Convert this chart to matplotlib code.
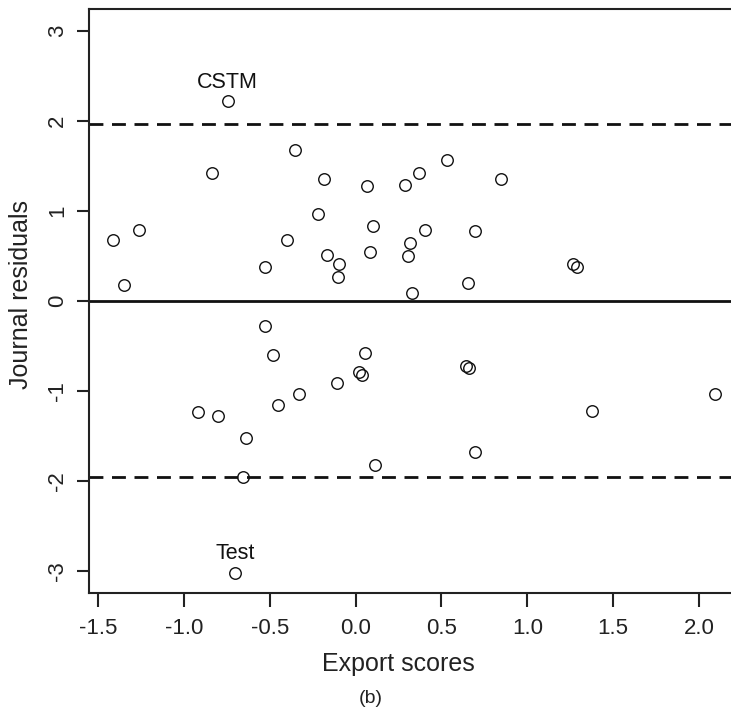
import numpy as np
import matplotlib
matplotlib.use("Agg")
import matplotlib.pyplot as plt

plt.rcParams['font.family'] = ['Liberation Sans', 'DejaVu Sans']

# Export scores (x) and journal residuals (y)
export_scores = [
    -0.745, -0.836, -0.351, -1.414, -1.263, -1.347, -0.526, -0.401,
    -0.184, -0.219, 0.065, 0.288, 0.371, 0.533, 0.847, 0.100,
    0.402, 0.694, -0.164, -0.095, -0.104, 0.086, 0.317, 0.304,
    0.329, 0.657, 1.265, 1.290,
    -0.526, -0.479, -0.331, -0.452, -0.916, -0.803, -0.638, -0.656,
    -0.700, -0.110, 0.055, 0.022, 0.036, 0.643, 0.661, 0.696,
    0.111, 1.377, 2.092,
]
journal_residuals = [
    2.22, 1.42, 1.67, 0.68, 0.79, 0.18, 0.38, 0.67,
    1.35, 0.96, 1.27, 1.29, 1.42, 1.56, 1.35, 0.83,
    0.79, 0.78, 0.51, 0.41, 0.26, 0.54, 0.64, 0.50,
    0.09, 0.20, 0.41, 0.38,
    -0.28, -0.60, -1.04, -1.16, -1.24, -1.28, -1.53, -1.96,
    -3.02, -0.91, -0.585, -0.79, -0.82, -0.73, -0.75, -1.68,
    -1.82, -1.225, -1.04,
]

# labelled outliers
labels = ["CSTM", "Test"]
label_x = [-0.745, -0.700]
label_y = [2.22, -3.02]

x_ticks = [-1.5, -1.0, -0.5, 0.0, 0.5, 1.0, 1.5, 2.0]
y_ticks = [-3, -2, -1, 0, 1, 2, 3]
limit = 1.96

W, H = 731, 712
fig = plt.figure(figsize=(W / 100, H / 100), dpi=100)
ax = fig.add_axes([88.8 / W, (H - 592.5) / H, 650 / W, 583.5 / H])

ax.axhline(0, color='#111111', lw=2.0, zorder=1)
for v in (limit, -limit):
    ax.axhline(v, color='#111111', lw=2.0, linestyle=(0, (5, 3.1)), zorder=1)

ax.plot(export_scores, journal_residuals, 'o', ms=8.3, mfc='none',
        mec='#111111', mew=1.0, zorder=3)

for lab, lx, ly in zip(labels, label_x, label_y):
    ax.annotate(lab, (lx, ly), xytext=(0, 9.5), textcoords='offset points',
                ha='center', va='baseline', fontsize=15.5, color='#111111')

ax.set_xlim(-1.554, 2.232)
ax.set_ylim(-3.242, 3.241)
ax.set_xticks(x_ticks)
ax.set_xticklabels([f"{t:.1f}" for t in x_ticks])
ax.set_yticks(y_ticks)
ax.set_yticklabels([str(t) for t in y_ticks])

for s in ax.spines.values():
    s.set_linewidth(1.5)
    s.set_color('#222222')

ax.tick_params(axis='x', length=10, width=1.5, pad=8, labelsize=16,
               colors='#222222')
ax.tick_params(axis='y', length=9, width=1.5, pad=6, labelsize=16,
               colors='#222222')
for lbl in ax.get_yticklabels():
    lbl.set_rotation(90)
    lbl.set_va('center')

ax.set_xlabel('Export scores', fontsize=18, color='#222222')
ax.xaxis.set_label_coords(0.477, -0.1345)
ax.xaxis.label.set_va('baseline')

ax.set_ylabel('Journal residuals', fontsize=18, color='#222222')
ax.yaxis.set_label_coords(-0.093, 0.51)
ax.yaxis.label.set_va('baseline')

fig.text(371 / W, 1 - 703 / H, '(b)', ha='center', va='baseline',
         fontsize=14, color='#222222')

fig.savefig('out.png', dpi=100)
